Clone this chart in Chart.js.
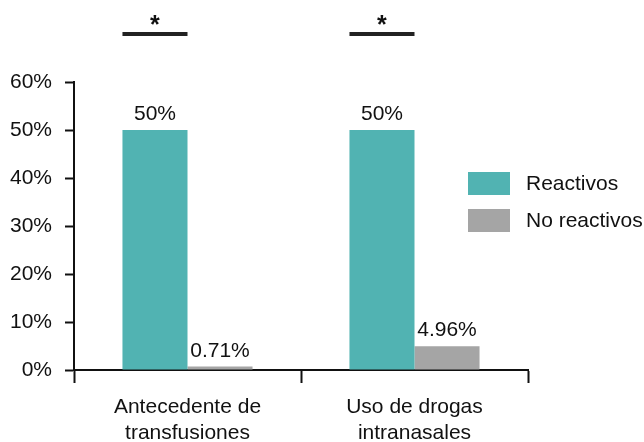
<!DOCTYPE html>
<html>
<head>
<meta charset="utf-8">
<script src="https://cdn.jsdelivr.net/npm/chart.js@4.4.1/dist/chart.umd.min.js"></script>
<style>
html,body{margin:0;padding:0;background:#fff;}
#wrap{width:644px;height:442px;position:relative;}
</style>
</head>
<body>
<div id="wrap"><canvas id="c" width="644" height="442"></canvas></div>
<script>
const categories = [["Antecedente de", "transfusiones"], ["Uso de drogas", "intranasales"]];
const seriesNames = ["Reactivos", "No reactivos"];
const reactivos = [50, 50];
const noReactivos = [0.71, 4.96];
const valueLabels = [["50%", "50%"], ["0.71%", "4.96%"]];
const significance = ["*", "*"];
const yTicks = [0, 10, 20, 30, 40, 50, 60];
const colors = ["#51b3b2", "#a5a5a5"];

const FONT = "'Liberation Sans', Arial, sans-serif";

const labelsPlugin = {
  id: 'labels',
  afterDatasetsDraw(chart) {
    const ctx = chart.ctx;
    ctx.save();
    ctx.fillStyle = '#111';
    ctx.font = '21px ' + FONT;
    ctx.textAlign = 'center';
    ctx.textBaseline = 'alphabetic';
    chart.data.datasets.forEach((ds, di) => {
      const meta = chart.getDatasetMeta(di);
      meta.data.forEach((bar, i) => {
        ctx.fillText(valueLabels[di][i], bar.x, bar.y - 10);
      });
    });
    // significance bars
    const meta0 = chart.getDatasetMeta(0);
    const ys = chart.scales.y;
    const yLine = ys.getPixelForValue(70);
    meta0.data.forEach((bar, i) => {
      if (!significance[i]) return;
      ctx.fillStyle = '#222';
      ctx.fillRect(bar.x - bar.width / 2, yLine - 2, bar.width, 4);
      ctx.fillStyle = '#111';
      ctx.font = 'bold 25px ' + FONT;
      ctx.fillText(significance[i], bar.x, yLine - 1);
    });
    // legend
    ctx.font = '21px ' + FONT;
    ctx.textAlign = 'left';
    ctx.textBaseline = 'middle';
    seriesNames.forEach((name, k) => {
      const top = 172 + k * 37;
      ctx.fillStyle = colors[k];
      ctx.fillRect(468, top, 42, 23);
      ctx.fillStyle = '#111';
      ctx.fillText(name, 526, top + 12);
    });
    ctx.restore();
  }
};

new Chart(document.getElementById('c'), {
  type: 'bar',
  data: {
    labels: categories,
    datasets: [
      { label: seriesNames[0], data: reactivos, backgroundColor: colors[0] },
      { label: seriesNames[1], data: noReactivos, backgroundColor: colors[1] }
    ]
  },
  options: {
    responsive: false,
    animation: false,
    devicePixelRatio: 1,
    layout: { padding: { top: 82, right: 116, left: 0, bottom: 0 } },
    plugins: { legend: { display: false }, tooltip: { enabled: false } },
    datasets: { bar: { categoryPercentage: 0.573, barPercentage: 1.0 } },
    scales: {
      x: {
        offset: true,
        grid: { display: true, offset: true, drawOnChartArea: false, drawTicks: true, tickLength: 13, tickWidth: 2, tickColor: '#111' },
        border: { display: true, color: '#111', width: 2 },
        ticks: { color: '#111', font: { family: FONT, size: 21, lineHeight: 1.2 }, padding: 12, maxRotation: 0, autoSkip: false },
        afterFit: s => { s.height = 72; }
      },
      y: {
        min: 0, max: 60,
        afterBuildTicks: s => { s.ticks = yTicks.map(v => ({ value: v })); },
        grid: { display: true, drawOnChartArea: false, drawTicks: true, tickLength: 9, tickWidth: 2, tickColor: '#111' },
        border: { display: true, color: '#111', width: 2 },
        ticks: { color: '#111', font: { family: FONT, size: 21 }, padding: 13, callback: v => v + '%' },
        afterFit: s => { s.width = 74; }
      }
    }
  },
  plugins: [labelsPlugin]
});
</script>
</body>
</html>
